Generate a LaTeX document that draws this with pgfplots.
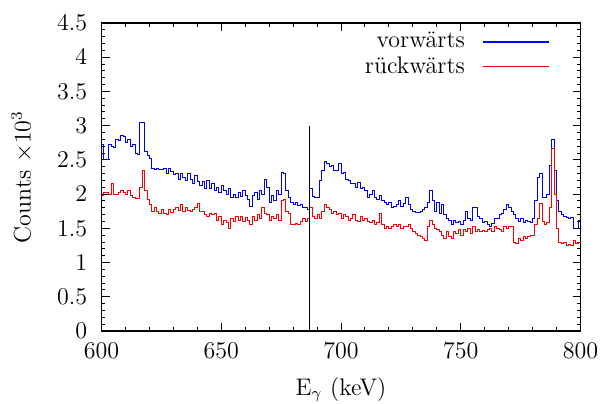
\documentclass[border=0pt]{standalone}
\usepackage{pgfplots}
\usepackage{pgfplotstable}
\pgfplotsset{compat=1.18}

% Spectra, 1 keV bins (left edge), counts in units of 10^3
\pgfplotstableread{
E   fwd   bwd
600 2.72 1.98
601 2.50 2.02
602 2.50 2.02
603 2.72 2.00
604 2.70 2.15
605 2.68 2.00
606 2.80 2.00
607 2.78 2.02
608 2.85 2.05
609 2.84 2.02
610 2.76 2.00
611 2.80 2.06
612 2.70 1.98
613 2.72 1.95
614 2.60 1.93
615 2.58 1.93
616 3.04 2.10
617 3.05 2.35
618 2.62 2.05
619 2.56 1.92
620 2.52 1.85
621 2.38 1.75
622 2.36 1.80
623 2.37 1.75
624 2.36 1.72
625 2.36 1.78
626 2.38 1.72
627 2.30 1.70
628 2.37 1.78
629 2.33 1.73
630 2.28 1.77
631 2.30 1.80
632 2.22 1.76
633 2.30 1.85
634 2.25 1.75
635 2.20 1.80
636 2.30 1.76
637 2.22 1.75
638 2.15 1.78
639 2.27 1.80
640 2.18 1.87
641 2.13 1.75
642 2.18 1.75
643 2.08 1.70
644 2.20 1.68
645 2.08 1.72
646 2.15 1.70
647 2.05 1.72
648 2.10 1.62
649 2.02 1.68
650 2.12 1.55
651 2.05 1.62
652 2.00 1.58
653 2.08 1.50
654 1.95 1.65
655 2.00 1.60
656 1.95 1.68
657 2.02 1.62
658 1.97 1.68
659 2.05 1.60
660 1.98 1.66
661 1.92 1.62
662 1.82 1.55
663 1.98 1.68
664 2.02 1.62
665 1.92 1.70
666 2.05 1.65
667 2.00 1.80
668 2.22 1.72
669 2.10 1.70
670 1.88 1.62
671 1.98 1.68
672 1.90 1.65
673 2.05 1.70
674 2.00 1.62
675 2.32 1.90
676 2.30 1.92
677 2.05 1.75
678 1.95 1.72
679 1.88 1.55
680 1.85 1.55
681 1.88 1.57
682 1.83 1.55
683 1.85 1.60
684 1.80 1.65
685 1.80 1.60
686 1.77 1.65
687 2.08 1.80
688 1.97 1.68
689 1.95 1.65
690 1.95 1.70
691 2.20 1.65
692 2.35 1.75
693 2.47 1.85
694 2.45 1.80
695 2.40 1.78
696 2.42 1.72
697 2.35 1.75
698 2.35 1.70
699 2.45 1.72
700 2.30 1.65
701 2.32 1.70
702 2.22 1.68
703 2.20 1.62
704 2.15 1.65
705 2.15 1.70
706 2.10 1.62
707 2.17 1.60
708 2.08 1.68
709 2.10 1.62
710 2.05 1.65
711 1.95 1.60
712 2.00 1.58
713 2.05 1.62
714 1.95 1.55
715 1.92 1.58
716 1.98 1.72
717 1.90 1.55
718 1.88 1.50
719 1.85 1.52
720 1.88 1.50
721 1.80 1.52
722 1.82 1.55
723 1.85 1.52
724 1.90 1.55
725 1.82 1.50
726 1.87 1.53
727 1.95 1.52
728 1.85 1.55
729 1.78 1.50
730 1.75 1.45
731 1.73 1.42
732 1.73 1.40
733 1.75 1.38
734 1.78 1.35
735 1.80 1.32
736 1.88 1.52
737 2.05 1.62
738 1.90 1.55
739 1.75 1.50
740 1.88 1.48
741 1.72 1.45
742 1.85 1.40
743 1.70 1.35
744 1.65 1.45
745 1.62 1.38
746 1.55 1.35
747 1.62 1.45
748 1.58 1.42
749 1.60 1.48
750 1.55 1.40
751 1.62 1.48
752 1.75 1.45
753 1.65 1.50
754 1.62 1.42
755 1.80 1.52
756 1.80 1.45
757 1.68 1.48
758 1.65 1.45
759 1.58 1.47
760 1.60 1.45
761 1.55 1.48
762 1.52 1.50
763 1.57 1.45
764 1.65 1.53
765 1.65 1.50
766 1.70 1.48
767 1.72 1.45
768 1.78 1.52
769 1.85 1.50
770 1.80 1.52
771 1.75 1.52
772 1.70 1.30
773 1.65 1.28
774 1.60 1.35
775 1.65 1.32
776 1.58 1.38
777 1.62 1.35
778 1.60 1.38
779 1.58 1.40
780 1.65 1.40
781 1.90 1.55
782 2.25 1.65
783 2.30 1.87
784 1.95 1.60
785 1.95 1.55
786 2.00 1.58
787 2.42 1.80
788 2.80 2.66
789 2.35 2.00
790 1.90 1.50
791 1.75 1.30
792 1.70 1.28
793 1.68 1.30
794 1.66 1.25
795 1.65 1.27
796 1.66 1.25
797 1.50 1.32
798 1.50 1.28
799 1.62 1.30
800 1.62 1.30
}\spectra

\begin{document}
\fontsize{12}{14.4}\selectfont
\begin{tikzpicture}
\useasboundingbox (-50.75pt,-36pt) rectangle (249.25pt,165.5pt);
\begin{axis}[
  at={(0,0)}, anchor=south west,
  scale only axis,
  width=239.5pt, height=154pt,
  xmin=600, xmax=800, ymin=0, ymax=4.5,
  xtick={600,650,...,800},
  ytick={0,0.5,...,4.5},
  minor x tick num=4,
  minor y tick num=4,
  tick align=inside,
  major tick length=4pt,
  minor tick length=2pt,
  axis line style={line width=0.8pt},
  every tick/.style={black, line width=0.5pt},
  xticklabel style={yshift=-2pt},
  yticklabel style={xshift=-3pt},
  xlabel={E$_\gamma$ (keV)},
  ylabel={Counts $\times 10^3$},
  xlabel style={yshift=-1pt},
  ylabel style={yshift=4pt},
  legend plot pos=right,
  legend cell align=right,
  legend style={at={(1,1)}, anchor=north east, xshift=-12pt, yshift=-0.5pt,
    draw=none, fill=none, row sep=-1.5pt,
    /tikz/every odd column/.append style={column sep=7pt}},
  legend image code/.code={\draw[#1, line width=0.6pt] (0pt,0pt) -- (33pt,0pt);},
]
\addplot[blue, line width=0.5pt, const plot mark left] table[x=E, y=fwd] {\spectra};
\addlegendentry{vorwärts}
\addplot[red, line width=0.5pt, const plot mark left] table[x=E, y=bwd] {\spectra};
\addlegendentry{rückwärts}
\addplot[black, line width=0.5pt, forget plot] coordinates {(687,0) (687,3)};
\end{axis}
\end{tikzpicture}
\end{document}
